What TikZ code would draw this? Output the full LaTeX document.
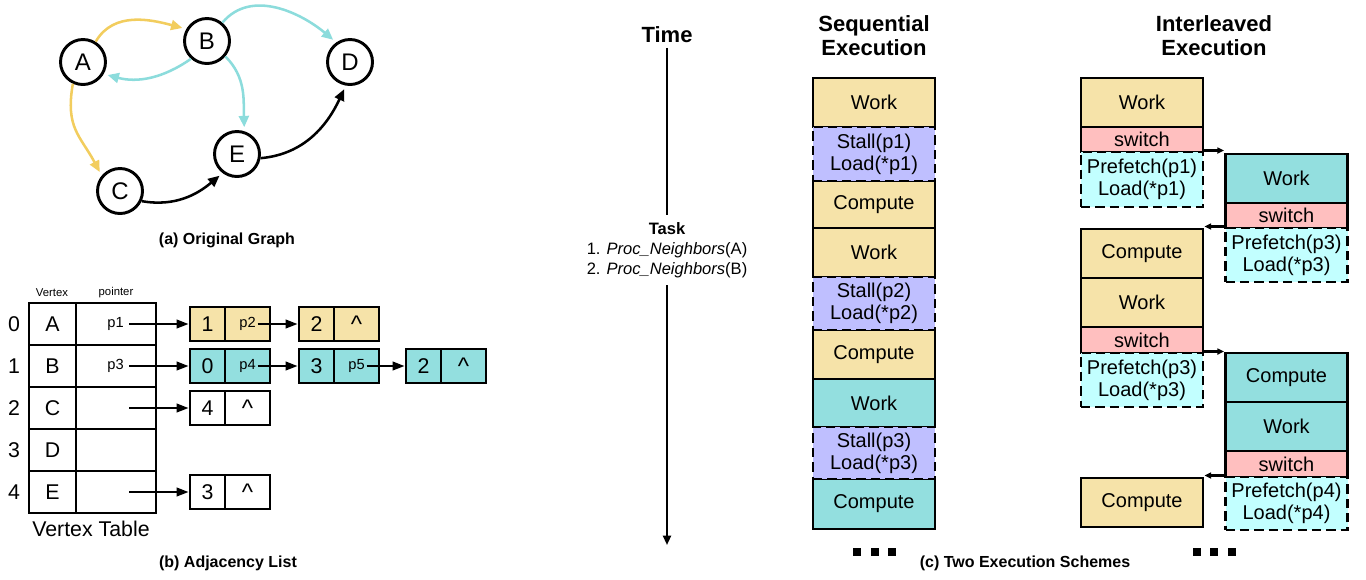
\documentclass[tikz,border=0pt]{standalone}
\usepackage{fontspec}
\setmainfont{Liberation Sans}
\usetikzlibrary{arrows.meta}
\definecolor{yfill}{HTML}{F6E3A9}
\definecolor{cfill}{HTML}{93DFDF}
\definecolor{lav}{HTML}{BFBFFF}
\definecolor{pinkf}{HTML}{FFBFBF}
\definecolor{lcyan}{HTML}{C2FFFF}
\definecolor{gyel}{HTML}{F2CD5E}
\definecolor{gcyan}{HTML}{8CDCDC}
\newcommand\caretsym{\raisebox{-3.5pt}{\fontsize{18}{20}\selectfont\textasciicircum}}
\tikzset{
 gnode/.style={circle, draw, line width=2.2pt, minimum size=33.75pt, inner sep=0pt, fill=white, font=\fontsize{18}{20}\selectfont},
 gedge/.style={line width=1.9pt, shorten >=3pt, -{Triangle[length=8.5pt,width=7.5pt]}},
 capt/.style={font=\bfseries\fontsize{12}{14}\selectfont},
 tcell/.style={draw, line width=2.2pt, minimum height=31.5pt, inner sep=0pt, font=\fontsize{16}{18}\selectfont},
 big/.style={font=\fontsize{16}{18}\selectfont},
 small/.style={font=\fontsize{11}{13}\selectfont},
 tiny/.style={font=\fontsize{8.5}{10}\selectfont},
 lcell/.style={draw, line width=2.2pt, minimum height=25.5pt, inner sep=0pt, font=\fontsize{16}{18}\selectfont},
 ptr/.style={line width=1.6pt, -{Triangle[length=9pt,width=6.5pt]}},
 blk/.style={draw, line width=2.2pt, minimum width=91.5pt, inner sep=0pt, align=center, font=\fontsize{15}{16.5}\selectfont},
 dblk/.style={blk, dash pattern=on 7pt off 3.8pt},
 hdr/.style={align=center, font=\bfseries\fontsize{16.5}{18}\selectfont},
 sarr/.style={line width=1.6pt, -{Triangle[length=5pt,width=4.5pt]}},
 sqdot/.style={fill=black, minimum size=6.2pt, inner sep=0pt},
}
\begin{document}
\begin{tikzpicture}[x=0.75pt,y=-0.75pt]
\useasboundingbox (0,0) rectangle (1366,579);

% ---------- (a) graph ----------
\node[gnode] (A) at (83,62) {A};
\node[gnode] (B) at (207,41) {B};
\node[gnode] (D) at (350,62) {D};
\node[gnode] (E) at (237,154) {E};
\node[gnode] (C) at (120,191) {C};
\draw[gedge, gyel] (A.58) to[out=60,in=165] (B.150);
\draw[gedge, gyel] (A.-115) to[out=-100,in=118,looseness=1.2] (C.140);
\draw[gedge, gcyan] (B.228) to[out=215,in=-15] (A.-30);
\draw[gedge, gcyan] (B.50) to[out=50,in=140] (D.125);
\draw[gedge, gcyan] (B.-40) to[out=-45,in=92] (E.72);
\draw[gedge, black] (C.-25) to[out=-10,in=220] (E.233);
\draw[gedge, black] (E.-10) to[out=5,in=245] (D.-100);
\node[capt] (capa) at (227,240) {(a) Original Graph};

% ---------- (b) adjacency list ----------
\node[tiny] (hv) at (52,293) {Vertex};
\node[tiny] (hp) at (116,293) {pointer};
\foreach \n/\v/\y in {0/A/324,1/B/366,2/C/408,3/D/450,4/E/492}{
  \node[big] (r\n) at (14,\y) {\n};
  \node[tcell, minimum width=35.25pt] (v\n) at (52.5,\y) {\v};
  \node[tcell, minimum width=60pt] (q\n) at (116,\y) {};
}
\node[small, anchor=east, inner sep=0pt] (pa) at (124,324) {p1};
\node[small, anchor=east, inner sep=0pt] (pb) at (124,366) {p3};
\coordinate (pc) at (129,408);
\coordinate (pe) at (129,492);
\node[big] (vt) at (91,529) {Vertex Table};

\node[lcell, fill=yfill, minimum width=26.25pt] (l00) at (207.5,324) {1};
\node[lcell, fill=yfill, minimum width=33.75pt, small] (l01) at (247.5,324) {p2};
\node[lcell, fill=yfill, minimum width=26.25pt] (l02) at (316.5,324) {2};
\node[lcell, fill=yfill, minimum width=33.75pt] (l03) at (356.5,324) {\caretsym};

\node[lcell, fill=cfill, minimum width=26.25pt] (l10) at (207.5,366) {0};
\node[lcell, fill=cfill, minimum width=33.75pt, small] (l11) at (247.5,366) {p4};
\node[lcell, fill=cfill, minimum width=26.25pt] (l12) at (316.5,366) {3};
\node[lcell, fill=cfill, minimum width=33.75pt, small] (l13) at (356.5,366) {p5};
\node[lcell, fill=cfill, minimum width=26.25pt] (l14) at (423.5,366) {2};
\node[lcell, fill=cfill, minimum width=33.75pt] (l15) at (463.5,366) {\caretsym};

\node[lcell, fill=white, minimum width=26.25pt] (l20) at (207.5,408) {4};
\node[lcell, fill=white, minimum width=33.75pt] (l21) at (247.5,408) {\caretsym};

\node[lcell, fill=white, minimum width=26.25pt] (l40) at (207.5,492) {3};
\node[lcell, fill=white, minimum width=33.75pt] (l41) at (247.5,492) {\caretsym};

\draw[ptr] ([xshift=3.75pt]pa.east) -- (l00.west);
\draw[ptr] ([xshift=3.75pt]pb.east) -- (l10.west);
\draw[ptr] (pc) -- (l20.west);
\draw[ptr] (pe) -- (l40.west);
\draw[ptr] ([xshift=7.5pt]l01.center) -- (l02.west);
\draw[ptr] ([xshift=7.5pt]l11.center) -- (l12.west);
\draw[ptr] ([xshift=7.5pt]l13.center) -- (l14.west);
\node[capt] (capb) at (228,563) {(b) Adjacency List};

% ---------- (c) time line ----------
\node[hdr] (time) at (667,35) {Time};
\node[align=center, inner ysep=5.5pt, font=\fontsize{12.4}{15}\selectfont] (task) at (667,250)
  {\textbf{Task}\\1. \textit{Proc\_Neighbors}(A)\\2. \textit{Proc\_Neighbors}(B)};
\coordinate (tend) at (667,545);
\draw[line width=1.5pt] (time.south) -- (task.north);
\draw[line width=1.5pt, -{Triangle[length=7pt,width=6pt]}] (task.south) -- (tend);

% ---------- sequential ----------
\node[hdr] (seqh) at (874,36) {Sequential\\Execution};
\node[blk, fill=yfill, minimum height=36.75pt] (s1) at (874,102.5) {Work};
\node[blk, fill=yfill, minimum height=35.25pt] (s3) at (874,204.5) {Compute};
\node[blk, fill=yfill, minimum height=36.75pt] (s4) at (874,252.5) {Work};
\node[blk, fill=yfill, minimum height=36.75pt] (s6) at (874,354.5) {Compute};
\node[blk, fill=cfill, minimum height=36pt] (s7) at (874,403) {Work};
\node[blk, fill=cfill, minimum height=37.5pt] (s9) at (874,504) {Compute};
\node[dblk, fill=lav, minimum height=40.5pt] (s2) at (874,154) {Stall(p1)\\Load(*p1)};
\node[dblk, fill=lav, minimum height=39.75pt] (s5) at (874,303.5) {Stall(p2)\\Load(*p2)};
\node[dblk, fill=lav, minimum height=39pt] (s8) at (874,453) {Stall(p3)\\Load(*p3)};
\node[sqdot] (d1) at (857,552) {};
\node[sqdot] (d2) at (875,552) {};
\node[sqdot] (d3) at (892,552) {};

% ---------- interleaved ----------
\node[hdr] (inth) at (1214,36) {Interleaved\\Execution};
\node[blk, fill=yfill, minimum height=36.75pt] (i1) at (1142,102.5) {Work};
\node[blk, fill=pinkf, minimum height=18.75pt] (i2) at (1142,139.5) {switch};
\node[dblk, fill=lcyan, minimum height=41.25pt] (i3) at (1142,179.5) {Prefetch(p1)\\Load(*p1)};
\node[blk, fill=yfill, minimum height=36.75pt] (i4) at (1142,253.5) {Compute};
\node[blk, fill=yfill, minimum height=36.75pt] (i5) at (1142,302.5) {Work};
\node[blk, fill=pinkf, minimum height=19.5pt] (i6) at (1142,340) {switch};
\node[dblk, fill=lcyan, minimum height=40.5pt] (i7) at (1142,380) {Prefetch(p3)\\Load(*p3)};
\node[blk, fill=yfill, minimum height=36.75pt] (i8) at (1142,502.5) {Compute};

\node[blk, fill=cfill, minimum height=36.75pt] (j1) at (1286.5,178.5) {Work};
\node[blk, fill=pinkf, minimum height=18.75pt] (j2) at (1286.5,215.5) {switch};
\node[dblk, fill=lcyan, minimum height=40.5pt] (j3) at (1286.5,255) {Prefetch(p3)\\Load(*p3)};
\node[blk, fill=cfill, minimum height=36.75pt] (j4) at (1286.5,377.5) {Compute};
\node[blk, fill=cfill, minimum height=36.75pt] (j5) at (1286.5,426.5) {Work};
\node[blk, fill=pinkf, minimum height=19.5pt] (j6) at (1286.5,464) {switch};
\node[dblk, fill=lcyan, minimum height=39.75pt] (j7) at (1286.5,503.5) {Prefetch(p4)\\Load(*p4)};

\draw[sarr] (i3.north east) -- (i3.north east -| j1.west);
\draw[sarr] (j3.north west) -- (j3.north west -| i4.east);
\draw[sarr] (i7.north east) -- (i7.north east -| j4.west);
\draw[sarr] (j7.north west) -- (j7.north west -| i8.east);
\node[sqdot] (d4) at (1197,552) {};
\node[sqdot] (d5) at (1214,552) {};
\node[sqdot] (d6) at (1232,552) {};

\node[capt] (capc) at (1025,563) {(c) Two Execution Schemes};
\end{tikzpicture}
\end{document}
